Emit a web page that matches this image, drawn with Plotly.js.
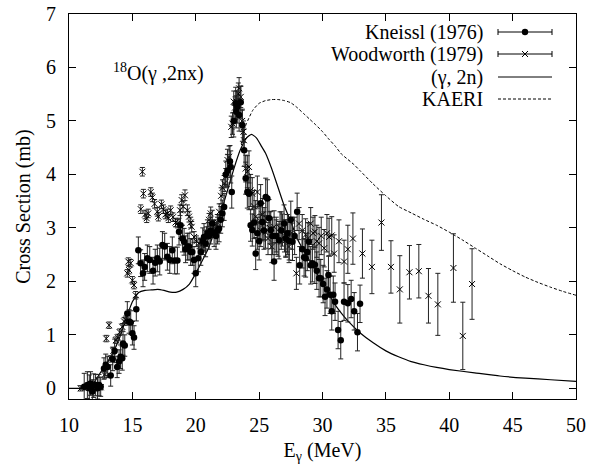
<!DOCTYPE html>
<html>
<head>
<meta charset="utf-8">
<script src="https://cdn.plot.ly/plotly-3.0.1.min.js"></script>
<style>html,body{margin:0;padding:0;background:#fff;}#chart{width:591px;height:475px;}</style>
</head>
<body>
<div id="chart"></div>
<script>
// ---------- data ----------
const kneisslE = [11.2,11.45,11.6,11.7,11.84,11.95,12.1,12.25,12.37,12.5,12.76,12.9,13.05,13.29,13.45,13.6,13.8,13.95,14.07,14.2,14.26,14.4,14.6,14.74,14.87,15.0,15.13,15.31,15.47,15.65,15.84,15.97,16.18,16.37,16.63,16.8,16.97,17.16,17.37,17.55,17.76,17.95,18.15,18.34,18.55,18.68,18.8,18.95,19.08,19.2,19.34,19.47,19.6,19.73,19.86,20.0,20.2,20.4,20.55,20.65,20.78,20.92,21.05,21.18,21.3,21.45,21.6,21.72,21.84,21.97,22.1,22.24,22.37,22.5,22.7,22.76,22.84,23.0,23.15,23.2,23.28,23.42,23.55,23.68,23.82,23.94,24.07,24.2,24.33,24.46,24.6,24.73,24.86,25.0,25.12,25.25,25.38,25.52,25.65,25.78,25.92,26.05,26.18,26.35,26.57,26.75,26.97,27.1,27.23,27.37,27.5,27.63,27.8,28.0,28.2,28.4,28.55,28.67,28.8,28.93,29.07,29.2,29.4,29.55,29.73,29.86,30.05,30.2,30.35,30.47,30.6,30.73,30.85,30.99,31.23,31.44,31.7,32.0,32.26,32.5,32.76,32.96];
const kneisslXS = [0.03,0.06,0.0,0.09,-0.06,0.05,0.06,0.0,0.06,0.03,0.37,0.44,0.40,0.24,0.55,0.70,0.40,0.50,0.59,0.56,0.84,0.80,1.40,1.25,1.23,1.03,0.95,1.48,2.58,2.34,2.15,2.27,2.43,2.40,2.20,2.35,2.43,2.37,2.68,2.65,2.46,2.40,2.58,2.39,2.39,2.93,3.05,2.80,2.74,2.60,2.65,2.65,2.55,2.55,2.40,2.15,2.43,2.55,2.75,2.83,2.71,2.90,2.85,2.95,3.08,2.90,2.85,2.95,2.99,3.15,3.27,3.39,4.00,4.07,4.24,4.14,3.67,5.00,5.33,5.17,5.26,5.11,5.35,4.92,4.45,3.93,3.67,3.64,3.05,2.96,3.10,2.52,2.90,2.75,3.46,3.11,2.95,3.58,3.55,3.18,2.96,2.85,2.37,2.85,2.77,2.95,3.08,2.80,2.90,2.75,3.15,2.74,2.85,3.30,2.30,2.60,2.45,2.43,2.55,2.74,2.30,2.34,2.31,2.20,2.06,2.06,1.95,1.71,1.85,2.12,1.75,1.44,1.75,1.62,1.09,0.90,1.62,1.59,1.67,1.44,1.05,1.58];
const kneisslErr = [0.25,0.25,0.25,0.22,0.22,0.22,0.2,0.2,0.2,0.18,0.2,0.2,0.2,0.2,0.22,0.22,0.2,0.22,0.22,0.22,0.22,0.2,0.22,0.22,0.22,0.22,0.22,0.22,0.25,0.25,0.25,0.25,0.25,0.25,0.25,0.25,0.25,0.25,0.25,0.25,0.25,0.25,0.25,0.25,0.25,0.25,0.25,0.25,0.25,0.25,0.25,0.25,0.25,0.25,0.25,0.25,0.25,0.25,0.25,0.25,0.25,0.25,0.25,0.25,0.25,0.25,0.25,0.25,0.25,0.25,0.25,0.25,0.25,0.3,0.3,0.3,0.3,0.3,0.3,0.3,0.3,0.3,0.3,0.3,0.3,0.3,0.3,0.3,0.3,0.3,0.3,0.3,0.3,0.35,0.35,0.35,0.35,0.35,0.35,0.35,0.35,0.35,0.35,0.35,0.35,0.35,0.35,0.35,0.35,0.35,0.35,0.35,0.35,0.35,0.35,0.35,0.35,0.35,0.35,0.35,0.35,0.35,0.35,0.35,0.35,0.35,0.35,0.35,0.35,0.35,0.35,0.35,0.35,0.35,0.35,0.35,0.35,0.35,0.35,0.35,0.35,0.35];

const woodE = [10.92,11.3,11.6,11.9,12.2,12.5,12.8,12.94,13.16,13.3,13.5,13.7,13.85,14.0,14.2,14.35,14.47,14.6,14.68,14.74,14.87,15.0,15.13,15.26,15.66,15.79,15.87,16.0,16.13,16.25,16.45,16.58,16.75,16.97,17.05,17.29,17.45,17.6,17.76,17.84,18.02,18.2,18.4,18.55,18.76,18.89,19.0,19.15,19.34,19.47,19.6,19.68,19.87,20.05,20.26,20.45,20.65,20.85,21.05,21.18,21.4,21.55,21.7,21.85,22.0,22.12,22.24,22.37,22.5,22.63,22.8,22.9,23.0,23.1,23.23,23.36,23.42,23.55,23.66,23.76,23.8,23.94,24.07,24.2,24.33,24.46,24.6,24.73,24.86,25.0,25.13,25.26,25.39,25.5,25.7,25.85,26.0,26.18,26.35,26.5,26.65,26.84,27.0,27.1,27.25,27.36,27.6,27.94,28.15,28.4,28.67,28.85,29.07,29.25,29.4,29.55,29.73,29.9,30.13,30.35,30.52,30.73,30.92,31.3,31.7,32.0,32.4,33.15,33.9,34.65,35.4,36.1,36.86,37.6,38.36,39.1,40.33,41.07,41.8];
const woodXS = [0.0,0.02,0.01,0.0,0.01,0.02,0.25,0.93,1.18,0.55,0.70,0.90,0.95,1.05,1.15,1.25,1.28,2.15,2.37,2.21,2.34,2.02,1.93,1.74,3.35,4.05,3.64,3.25,3.18,3.27,3.67,3.57,3.45,3.30,3.21,3.44,3.35,3.25,3.27,3.18,3.33,3.20,3.10,3.08,3.33,3.52,3.40,3.61,3.33,3.21,3.10,3.02,2.83,2.75,2.71,2.68,2.65,2.90,3.15,3.27,3.02,2.95,3.10,3.30,3.60,3.75,3.83,3.96,4.27,4.33,4.89,4.95,5.36,5.25,5.36,5.51,5.61,5.45,5.00,4.80,4.64,4.11,4.05,4.14,3.70,3.64,3.40,3.21,3.67,3.10,2.95,3.25,3.08,2.92,2.80,3.00,2.65,3.02,2.85,2.77,3.00,2.96,2.85,2.77,2.80,2.65,2.90,2.15,3.08,2.95,2.87,2.80,3.08,2.90,2.93,2.75,2.71,2.85,2.62,2.90,2.83,2.86,2.52,2.75,2.37,2.60,2.80,2.52,2.27,3.10,2.27,1.85,2.17,2.19,1.73,1.57,2.25,0.98,1.95];
const woodErr = [0.05,0.05,0.05,0.05,0.05,0.05,0.06,0.06,0.06,0.06,0.06,0.06,0.06,0.06,0.06,0.07,0.07,0.07,0.07,0.07,0.07,0.07,0.07,0.07,0.08,0.08,0.08,0.08,0.08,0.08,0.08,0.08,0.08,0.08,0.08,0.08,0.08,0.08,0.08,0.08,0.08,0.08,0.08,0.08,0.1,0.1,0.1,0.1,0.1,0.1,0.1,0.1,0.1,0.1,0.1,0.1,0.1,0.12,0.12,0.12,0.12,0.12,0.15,0.15,0.15,0.15,0.15,0.15,0.2,0.2,0.2,0.2,0.2,0.2,0.2,0.2,0.2,0.2,0.2,0.2,0.2,0.25,0.3,0.3,0.3,0.3,0.3,0.3,0.3,0.3,0.3,0.3,0.3,0.3,0.3,0.3,0.3,0.3,0.3,0.3,0.3,0.3,0.3,0.3,0.3,0.3,0.3,0.3,0.3,0.3,0.3,0.3,0.3,0.3,0.3,0.3,0.3,0.35,0.35,0.35,0.35,0.35,0.35,0.4,0.4,0.45,0.48,0.46,0.5,0.52,0.49,0.63,0.5,0.5,0.51,0.58,0.64,0.63,0.66];

const g2nE  = [10,11,11.5,12,12.5,13,13.5,14,14.5,15,15.5,16,16.5,17,17.5,18,18.5,19,19.5,20,20.5,21,21.5,22,22.5,23,23.5,24,24.4,24.8,25.2,25.5,26,26.5,27,27.5,28,28.5,29,29.5,30,30.5,31,31.5,32,33,34,35,36,37,38,39,40,42,44,46,48,50];
const g2nXS = [0,0,0.03,0.12,0.3,0.48,0.68,0.95,1.3,1.62,1.79,1.83,1.84,1.85,1.83,1.80,1.80,1.85,1.95,2.15,2.38,2.62,2.95,3.3,3.7,4.1,4.45,4.68,4.75,4.68,4.52,4.4,4.1,3.75,3.4,3.12,2.8,2.58,2.38,2.17,1.96,1.76,1.56,1.4,1.26,1.03,0.85,0.7,0.59,0.5,0.44,0.39,0.35,0.29,0.23,0.19,0.16,0.13];

const kaeriE  = [23.6,23.8,24.0,24.5,25,25.5,26,26.5,27,27.5,28,28.5,29,29.5,30,30.5,31,31.5,32,32.5,33,34,35,36,37,38,39,40,41,42,43,44,45,46,47,48,49,50];
const kaeriXS = [4.55,4.8,4.95,5.2,5.33,5.38,5.40,5.40,5.38,5.34,5.25,5.14,5.03,4.92,4.8,4.66,4.53,4.38,4.28,4.18,4.06,3.82,3.6,3.4,3.28,3.16,3.05,2.92,2.78,2.63,2.48,2.33,2.2,2.08,1.98,1.89,1.81,1.74];

const xTicks = [10,15,20,25,30,35,40,45,50];
const yTicks = [0,1,2,3,4,5,6,7];
const legendLabels = ['Kneissl (1976)','Woodworth (1979)','(γ, 2n)','KAERI'];

// ---------- layout helpers ----------
const FONT = 'Liberation Serif, Times New Roman, serif';
const L = 69, R = 576, T = 14, B = 399;
const W = 591, H = 475;
const px = v => (v - L) / (R - L);
const py = v => (B - v) / (B - T);

const errStyle = {type:'data', visible:true, thickness:1, width:2.5, color:'#222'};

const traces = [
  {x:g2nE, y:g2nXS, mode:'lines', line:{color:'#000', width:1.2, shape:'spline', smoothing:0.5}, showlegend:false, name:legendLabels[2]},
  {x:kaeriE, y:kaeriXS, mode:'lines', line:{color:'#000', width:1, dash:'3px,2px', shape:'spline', smoothing:0.5}, showlegend:false, name:legendLabels[3]},
  {x:woodE, y:woodXS, mode:'markers', marker:{symbol:'x-thin-open', size:6, color:'#000', line:{color:'#000', width:1}}, error_y:Object.assign({array:woodErr}, errStyle), showlegend:false, name:legendLabels[1]},
  {x:kneisslE, y:kneisslXS, mode:'markers', marker:{symbol:'circle', size:6.5, color:'#000'}, error_y:Object.assign({array:kneisslErr}, errStyle), showlegend:false, name:legendLabels[0]}
];

// gnuplot-style key: text right-aligned, sample to its right
const rowsY = [32, 54, 77, 99];
const sx0 = 498, sx1 = 552, sxm = 525;
const annotations = legendLabels.map((t, i) => ({
  xref:'paper', yref:'paper', x:px(485), y:py(rowsY[i]), xanchor:'right', yanchor:'middle',
  text:t, showarrow:false, font:{family:FONT, size:20, color:'#000'}
}));
annotations.push({
  xref:'paper', yref:'paper', x:px(111), y:py(72), xanchor:'left', yanchor:'middle',
  text:'<sup>18</sup>O(γ ,2nx)', showarrow:false, font:{family:FONT, size:20, color:'#000'}
});

const shapes = [];
rowsY.forEach((yy, i) => {
  const ln = {type:'line', xref:'paper', yref:'paper', x0:px(sx0), x1:px(sx1), y0:py(yy), y1:py(yy), line:{color:'#000', width:1}};
  if (i === 3) ln.line.dash = '3px,2px';
  shapes.push(ln);
  if (i < 2) {
    shapes.push({type:'line', xref:'paper', yref:'paper', x0:px(sx0), x1:px(sx0), y0:py(yy-3), y1:py(yy+3), line:{color:'#000', width:1}});
    shapes.push({type:'line', xref:'paper', yref:'paper', x0:px(sx1), x1:px(sx1), y0:py(yy-3), y1:py(yy+3), line:{color:'#000', width:1}});
  }
  if (i === 0) {
    shapes.push({type:'circle', xref:'paper', yref:'paper', xsizemode:'pixel', ysizemode:'pixel', xanchor:px(sxm), yanchor:py(yy), x0:-3.2, x1:3.2, y0:-3.2, y1:3.2, fillcolor:'#000', line:{color:'#000', width:0}});
  }
  if (i === 1) {
    shapes.push({type:'line', xref:'paper', yref:'paper', x0:px(sxm-3), x1:px(sxm+3), y0:py(yy-3), y1:py(yy+3), line:{color:'#000', width:1}});
    shapes.push({type:'line', xref:'paper', yref:'paper', x0:px(sxm-3), x1:px(sxm+3), y0:py(yy+3), y1:py(yy-3), line:{color:'#000', width:1}});
  }
});

const axisCommon = {
  showline:true, linecolor:'#000', linewidth:1, mirror:'ticks',
  ticks:'inside', ticklen:7, tickwidth:1, tickcolor:'#000',
  showgrid:false, zeroline:false, automargin:false,
  tickfont:{family:FONT, size:20, color:'#000'}
};

const layout = {
  width:W, height:H,
  margin:{l:L, r:W-R, t:T, b:H-B, pad:0},
  paper_bgcolor:'#fff', plot_bgcolor:'#fff',
  showlegend:false,
  font:{family:FONT, color:'#000', size:20},
  xaxis:Object.assign({}, axisCommon, {
    range:[10,50], tickvals:xTicks, ticktext:xTicks.map(String), ticklabelstandoff:8,
    title:{text:'E<sub>γ</sub> (MeV)', font:{family:FONT, size:20, color:'#000'}, standoff:7}
  }),
  yaxis:Object.assign({}, axisCommon, {
    range:[-0.2,7], tickvals:yTicks, ticktext:yTicks.map(String), ticklabelstandoff:8,
    title:{text:'Cross Section (mb)', font:{family:FONT, size:20, color:'#000'}, standoff:10}
  }),
  annotations:annotations,
  shapes:shapes
};

Plotly.newPlot('chart', traces, layout, {staticPlot:true, displayModeBar:false});
</script>
</body>
</html>
